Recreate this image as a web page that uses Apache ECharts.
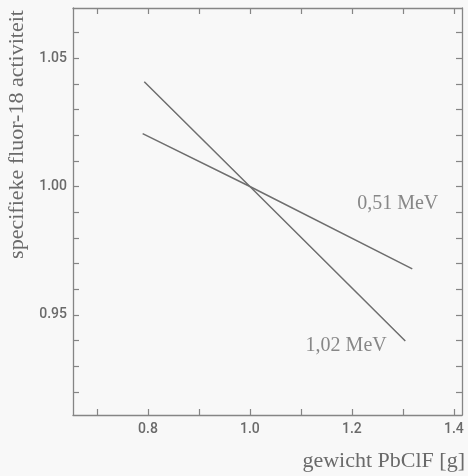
<!DOCTYPE html>
<html>
<head>
<meta charset="utf-8">
<script src="https://cdn.jsdelivr.net/npm/echarts@6/dist/echarts.min.js"></script>
<style>
html,body{margin:0;padding:0;background:#f8f8f8;}
#c{width:468px;height:476px;}
</style>
</head>
<body>
<div id="c"></div>
<script>
// Data
const mev051 = [[0.7896, 1.0206], [1.0, 1.0], [1.3185, 0.9679]];
const mev102 = [[0.7928, 1.0408], [1.0, 1.0], [1.3048, 0.9398]];
const seriesLabels = [
  {name: '0,51 MeV', value: [1.290, 0.9932]},
  {name: '1,02 MeV', value: [1.1888, 0.9378]}
];
const xLabelValues = [0.8, 1.0, 1.2, 1.4];
const xTickValues = [0.7, 0.8, 0.9, 1.0, 1.1, 1.2, 1.3, 1.4];
const yLabelValues = [0.95, 1.00, 1.05];
const yTickValues = [0.92, 0.93, 0.94, 0.95, 0.96, 0.97, 0.98, 0.99, 1.00, 1.01, 1.02, 1.03, 1.04, 1.05, 1.06];
const xName = 'gewicht PbClF [g]';
const yName = 'specifieke fluor-18 activiteit';

const X_MIN = 0.653, X_MAX = 1.416, Y_MIN = 0.911, Y_MAX = 1.0695;
const axisColor = '#858585';
const textColor = '#6a6a6a';
const lineColor = '#6e6e6e';
const serif = '"Liberation Serif", "DejaVu Serif", serif';

function xAx(pos, showLabel) {
  return {
    type: 'value', position: pos, min: X_MIN, max: X_MAX,
    axisLine: {show: true, onZero: false, lineStyle: {color: axisColor, width: 1.3}},
    axisTick: {show: true, inside: true, length: 6, customValues: xTickValues, lineStyle: {color: axisColor, width: 1.2}},
    axisLabel: {show: showLabel, customValues: xLabelValues, margin: 7, color: textColor,
      fontFamily: 'Roboto', fontSize: 14, fontWeight: 500,
      formatter: v => v.toFixed(1)},
    splitLine: {show: false}
  };
}
function yAx(pos, showLabel) {
  return {
    type: 'value', position: pos, min: Y_MIN, max: Y_MAX,
    axisLine: {show: true, onZero: false, lineStyle: {color: axisColor, width: 1.3}},
    axisTick: {show: true, inside: true, length: 6, customValues: yTickValues, lineStyle: {color: axisColor, width: 1.2}},
    axisLabel: {show: showLabel, customValues: yLabelValues, margin: 6, color: textColor,
      fontFamily: 'Roboto', fontSize: 14, fontWeight: 500,
      formatter: v => v.toFixed(2)},
    splitLine: {show: false}
  };
}

const chart = echarts.init(document.getElementById('c'), null, {renderer: 'canvas'});
chart.setOption({
  backgroundColor: '#f8f8f8',
  animation: false,
  grid: {left: 73, right: 6, top: 8, bottom: 61},
  xAxis: [xAx('bottom', true), xAx('top', false)],
  yAxis: [yAx('left', true), yAx('right', false)],
  series: [
    {type: 'line', data: mev051, symbol: 'none', lineStyle: {color: lineColor, width: 1.5}},
    {type: 'line', data: mev102, symbol: 'none', lineStyle: {color: lineColor, width: 1.5}},
    {type: 'scatter', data: seriesLabels, symbolSize: 0, silent: true,
      label: {show: true, position: 'inside', formatter: p => p.name, color: textColor,
        fontFamily: serif, fontSize: 20}}
  ],
  graphic: [
    {type: 'text', x: 17.5, y: 134.5, rotation: Math.PI / 2,
      style: {text: yName, font: '22px ' + serif, fill: textColor, align: 'center', verticalAlign: 'middle'}},
    {type: 'text', x: 465, y: 461,
      style: {text: xName, font: '22px ' + serif, fill: textColor, align: 'right', verticalAlign: 'middle'}}
  ]
});
</script>
</body>
</html>
